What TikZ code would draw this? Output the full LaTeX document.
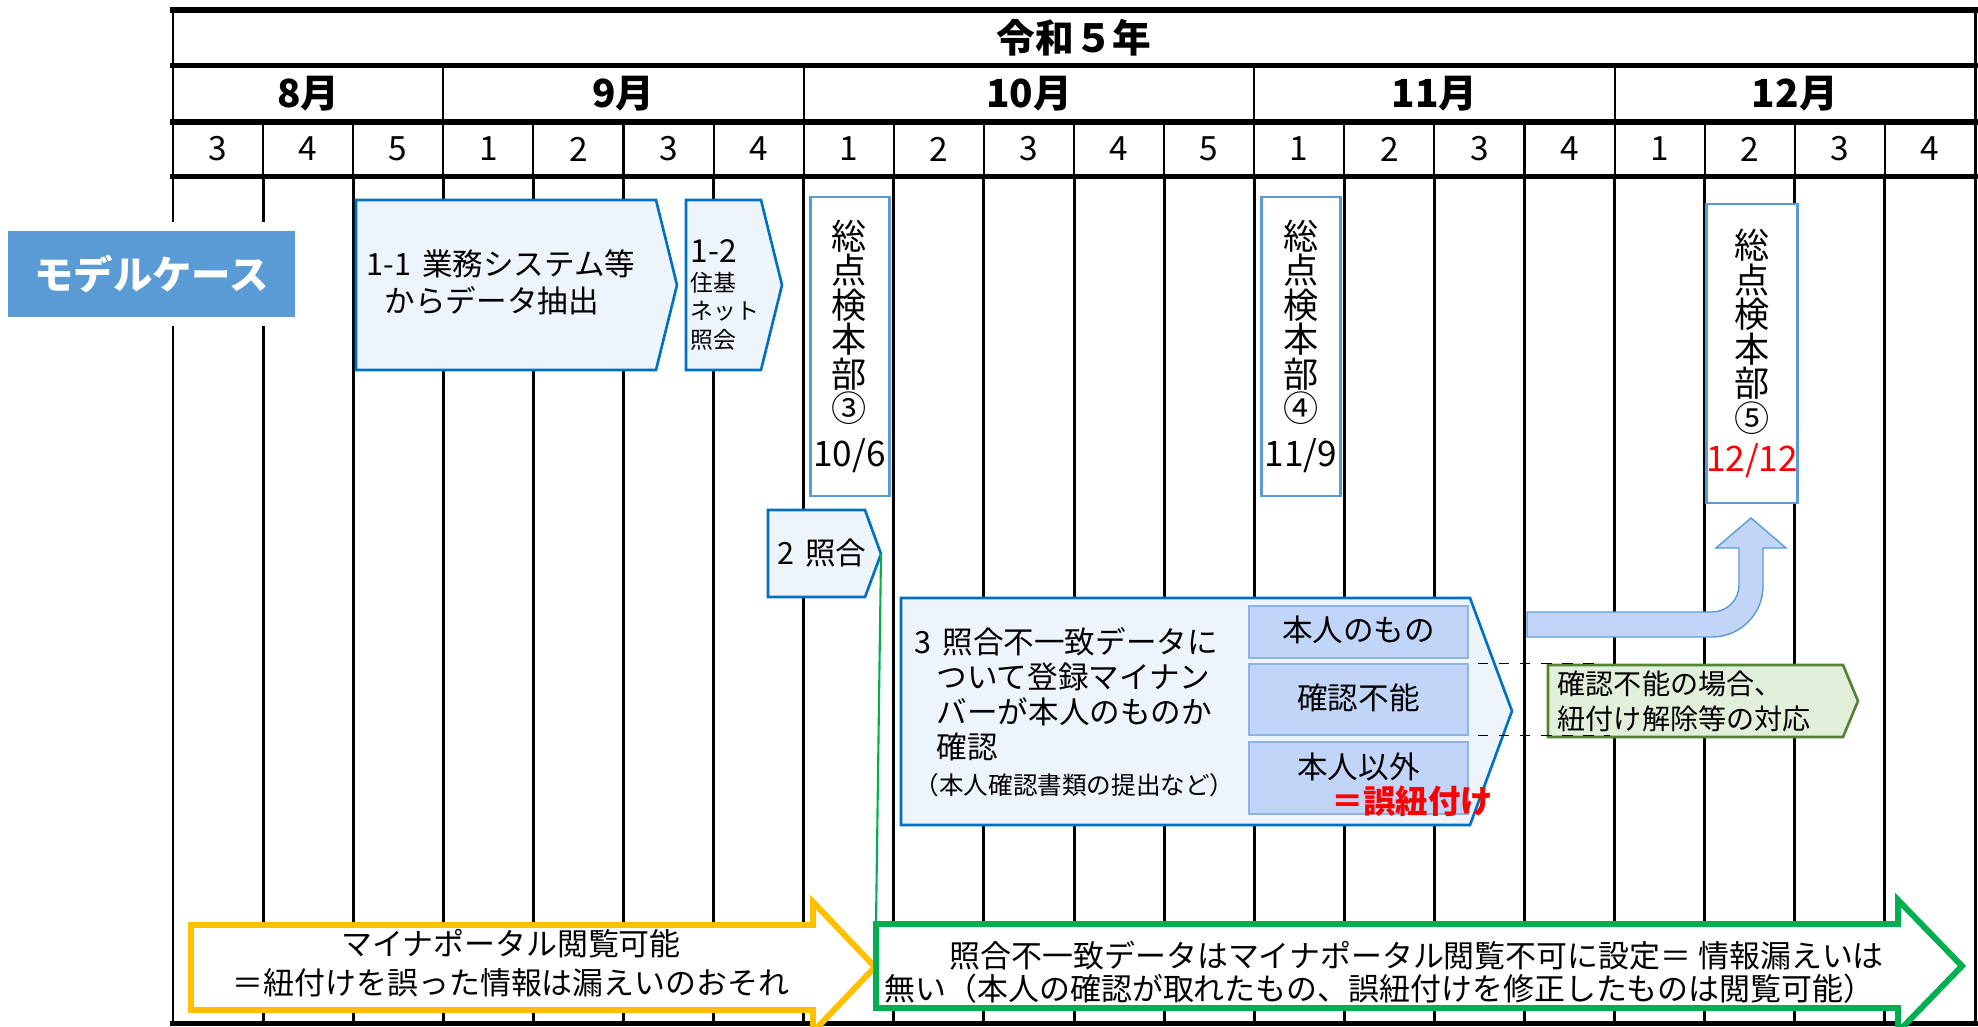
\documentclass[tikz,border=0pt]{standalone}
\usepackage{fontspec}
\setmainfont{Noto Sans CJK JP}
\usetikzlibrary{positioning}
\definecolor{panelfill}{RGB}{237,244,251}
\definecolor{panelline}{RGB}{0,112,192}
\definecolor{hqblue}{RGB}{91,155,213}
\definecolor{subfill}{RGB}{193,213,248}
\definecolor{subline}{RGB}{143,180,227}
\definecolor{notefill}{RGB}{226,239,218}
\definecolor{noteline}{RGB}{84,130,53}
\definecolor{okgreen}{RGB}{0,176,80}
\definecolor{warnyellow}{RGB}{255,192,0}

\begin{document}
\begin{tikzpicture}[x=0.1mm,y=-0.1mm,
  every node/.style={inner sep=0pt},
  body/.style={font=\fontsize{8.7}{10}\selectfont},
  head/.style={font=\bfseries\fontsize{11}{11}\selectfont},
  panel/.style={fill=panelfill,draw=panelline,line width=0.75pt},
  hq/.style={draw=hqblue,fill=white,line width=0.85pt,minimum width=7.9mm,minimum height=29.9mm,align=center,font=\fontsize{10}{9.8}\selectfont},
  sub/.style={draw=subline,fill=subfill,line width=0.4pt,minimum width=21.9mm,text height=2.5mm,text depth=0.6mm,body},
  bigarrow/.style={fill=white,line width=1.7pt}]
\useasboundingbox (0,0) rectangle (1978,1027);

\foreach \k in {1,...,19}
  \draw[line width=0.85pt] ({173+90.1*\k},176) -- ({173+90.1*\k},1024);
\foreach \k in {1,...,19}
  \draw[line width=0.6pt] ({173+90.1*\k},122) -- ({173+90.1*\k},176);
\foreach \k in {3,7,12,16}
  \draw[line width=0.6pt] ({173+90.1*\k},65) -- ({173+90.1*\k},122);
\draw[line width=0.85pt] (173,10) -- (173,1024) (1975,10) -- (1975,1024);
\foreach \y in {10,65.5,122,176.5,1023.5}
  \draw[line width=1.7pt,line cap=rect] (173,\y) -- (1975,\y);

\node[head] (year) at (1074,38) {令和５年};
\foreach \a/\b/\t [count=\i] in {0/3/8月,3/7/9月,7/12/10月,12/16/11月,16/20/12月}
  \node[head] (mon\i) at ({173+45.05*(\a+\b)},94) {\t};
\foreach \w [count=\i from 0] in {3,4,5,1,2,3,4,1,2,3,4,5,1,2,3,4,1,2,3,4}
  \node[font=\fontsize{9.5}{9.5}\selectfont] (wk\i) at ({218+90.1*\i},149) {\w};

\node[fill=hqblue,draw=white,line width=2.5pt,minimum width=29.6mm,minimum height=9.5mm,text=white,font=\bfseries\fontsize{11.2}{11.2}\selectfont] (model) at (151.5,274) {モデルケース};

\draw[panel] (356,200) -- (656,200) -- (677,285) -- (656,370) -- (356,370) -- cycle;
\node[anchor=west,align=left,font=\fontsize{8.7}{10.5}\selectfont] (step11) at (366,282) {1-1\hspace{1.1mm}業務システム等\\\hspace*{1.8mm}からデータ抽出};
\draw[panel] (686,200) -- (761,200) -- (782,285) -- (761,370) -- (686,370) -- cycle;
\node[anchor=west,align=left,font=\fontsize{6.5}{8.2}\selectfont] (step12) at (690,295) {{\fontsize{9}{9}\selectfont 1-2}\\住基\\ネット\\照会};

\node[hq] (hq3) at (849.5,346.5) {総\\点\\検\\本\\部\\③\\[1.1mm]10/6};
\node[hq] (hq4) at (1301,346.5) {総\\点\\検\\本\\部\\④\\[1.1mm]11/9};
\node[hq] (hq5) at (1752,353.5) {総\\点\\検\\本\\部\\⑤\\[0.6mm]\textcolor{red}{12/12}};

\draw[panel] (768,510) -- (865,510) -- (881,554) coordinate (tip2) -- (865,597) -- (768,597) -- cycle;
\node[body] (step2) at (822,553) {2\hspace{1.1mm}照合};

\draw[panel] (901,598) -- (1470,598) -- (1512,711) -- (1470,825) -- (901,825) -- cycle;
\node[body,anchor=west,align=left] (step3) at (914,712) {3\hspace{1.1mm}照合不一致データに\\\hspace*{2.2mm}ついて登録マイナン\\\hspace*{2.2mm}バーが本人のものか\\\hspace*{2.2mm}確認\\{\fontsize{7}{8}\selectfont（本人確認書類の提出など）}};
\node[sub,minimum height=5.2mm] (own) at (1358.5,632) {本人のもの};
\node[sub,minimum height=7.1mm] (funo) at (1358.5,699.5) {確認不能};
\node[sub,minimum height=7.2mm,text depth=2.5mm] (other) at (1358.5,778) {本人以外};
\node[text=red,font=\bfseries\fontsize{9.2}{9.2}\selectfont] (mis) at (1412,801) {＝誤紐付け};

\draw[fill=notefill,draw=noteline,line width=0.75pt] (1548,665) -- (1843,665) -- (1858,701) -- (1843,737) -- (1548,737) -- cycle;
\node[anchor=west,align=left,font=\fontsize{8}{10}\selectfont] (note) at (1557,701) {確認不能の場合、\\紐付け解除等の対応};
\coordinate (dtop) at (1603,662);
\coordinate (dbot) at (1610,735);
\draw[dashed,line width=0.4pt] ([xshift=0.9mm]funo.north east) -- (funo.north east -| dtop);
\draw[dashed,line width=0.4pt] ([xshift=0.9mm]funo.south east) -- (funo.south east -| dbot);

\draw[fill=subfill,draw=hqblue,line width=0.4pt] (1527,612) [rounded corners=2.7mm] -- (1739,612) [sharp corners] -- (1739,548) -- (1716,548) -- (1751,518) -- (1786,548) -- (1763,548) [rounded corners=5.1mm] -- (1763,637) [sharp corners] -- (1527,637) -- cycle;

\draw[bigarrow,draw=warnyellow] (191,925) -- (813,925) -- (813,902) -- (875,967) -- (813,1032) -- (813,1010) -- (191,1010) -- cycle;
\node[align=center,font=\fontsize{8.8}{11.1}\selectfont] (portal) at (511,963) {マイナポータル閲覧可能\\＝紐付けを誤った情報は漏えいのおそれ};
\draw[bigarrow,draw=okgreen] (876,924) coordinate (gtl) -- (1898,924) -- (1898,900) -- (1962,966) -- (1898,1032) -- (1898,1008) -- (876,1008) -- cycle;
\node[anchor=west,align=left,font=\fontsize{8.8}{9.3}\selectfont] (hidden) at (884,972) {\hspace*{6.5mm}照合不一致データはマイナポータル閲覧不可に設定＝ 情報漏えいは\\無い（本人の確認が取れたもの、誤紐付けを修正したものは閲覧可能）};
\draw[okgreen,line width=0.6pt] (tip2) -- (gtl);
\end{tikzpicture}
\end{document}
